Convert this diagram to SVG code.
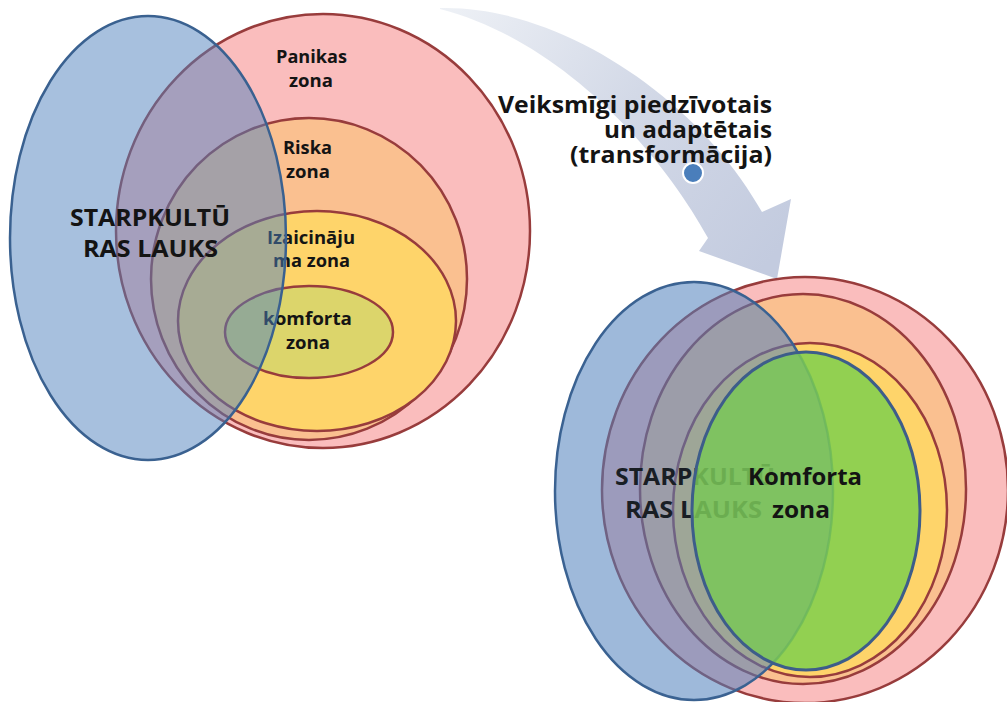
<svg xmlns="http://www.w3.org/2000/svg" width="1007" height="702" viewBox="0 0 1007 702">
  <style>
    .zone { stroke: #983c3c; stroke-width: 2.5; }
    .pink { fill: #fabdbd; }
    .orange { fill: #fac090; }
    .yellow { fill: #fed46a; }
    .comfort { fill: #dcd56b; }
    .cult { fill: #4f81bd; fill-opacity: 0.5; }
    .cultline { fill: none; stroke: #3a6190; stroke-width: 2.5; }
    text { font-family: "Open Sans", Lato, "Liberation Sans", sans-serif; font-weight: 700; fill: #141414; }
    .small { font-size: 17px; text-anchor: middle; }
    .big { font-size: 23px; text-anchor: middle; }
    .label { font-size: 23px; text-anchor: end; }
  </style>
  <defs>
    <linearGradient id="arrowGrad" gradientUnits="userSpaceOnUse" x1="440" y1="8" x2="770" y2="260">
      <stop offset="0" stop-color="#eef1f6"/>
      <stop offset="0.5" stop-color="#d3d9e7"/>
      <stop offset="1" stop-color="#c3cbdf"/>
    </linearGradient>
  </defs>
  <rect width="1007" height="702" fill="#ffffff"/>

  <g id="connectors">
    <path id="transform-arrow" d="M440,8 C560,5 700,100 762,212 L791,199 L777,279 L699,251 L708,238 C660,150 560,40 440,9 Z" fill="url(#arrowGrad)"/>
  </g>

  <g id="label-transform">
    <text class="label" x="772" y="113" textLength="274" lengthAdjust="spacingAndGlyphs">Veiksmīgi piedzīvotais</text>
    <text class="label" x="772" y="138" textLength="168" lengthAdjust="spacingAndGlyphs">un adaptētais</text>
    <text class="label" x="772" y="163" textLength="202" lengthAdjust="spacingAndGlyphs">(transformācija)</text>
    <circle cx="693" cy="173" r="10" fill="#4a7ebb" stroke="#ffffff" stroke-width="2"/>
  </g>

  <!-- Left diagram -->
  <g id="left-panic">
    <ellipse class="zone pink" cx="323" cy="231" rx="207" ry="217"/>
    <text class="small" x="311.5" y="63" textLength="71" lengthAdjust="spacingAndGlyphs">Panikas</text>
    <text class="small" x="311" y="87" textLength="44" lengthAdjust="spacingAndGlyphs">zona</text>
  </g>
  <g id="left-risk">
    <ellipse class="zone orange" cx="309" cy="279" rx="158" ry="161"/>
    <text class="small" x="307.5" y="154" textLength="49" lengthAdjust="spacingAndGlyphs">Riska</text>
    <text class="small" x="308" y="178" textLength="44" lengthAdjust="spacingAndGlyphs">zona</text>
  </g>
  <g id="left-challenge">
    <ellipse class="zone yellow" cx="317" cy="321" rx="139" ry="110"/>
    <text class="small" x="311" y="244" textLength="88" lengthAdjust="spacingAndGlyphs">Izaicināju</text>
    <text class="small" x="311.5" y="267" textLength="77" lengthAdjust="spacingAndGlyphs">ma zona</text>
  </g>
  <g id="left-comfort">
    <ellipse class="zone comfort" cx="309" cy="332" rx="84" ry="46"/>
    <text class="small" x="307.5" y="325" textLength="89" lengthAdjust="spacingAndGlyphs">komforta</text>
    <text class="small" x="308" y="349" textLength="44" lengthAdjust="spacingAndGlyphs">zona</text>
  </g>
  <g id="left-intercultural">
    <ellipse class="cult" cx="148" cy="238" rx="138" ry="222"/>
    <ellipse class="cultline" cx="148" cy="238" rx="138" ry="222"/>
    <text class="big" x="150" y="226" textLength="160" lengthAdjust="spacingAndGlyphs">STARPKULTŪ</text>
    <text class="big" x="150.5" y="257" textLength="135" lengthAdjust="spacingAndGlyphs">RAS LAUKS</text>
  </g>

  <!-- Right diagram -->
  <g id="right-panic">
    <ellipse class="zone pink" cx="805" cy="490" rx="203" ry="213"/>
  </g>
  <g id="right-risk">
    <ellipse class="zone orange" cx="803" cy="489" rx="163" ry="195"/>
  </g>
  <g id="right-challenge">
    <ellipse class="zone yellow" cx="810" cy="510" rx="137" ry="167"/>
  </g>
  <g id="right-intercultural">
    <ellipse class="cult" cx="694" cy="491" rx="139" ry="209"/>
    <ellipse class="cultline" cx="694" cy="491" rx="139" ry="209"/>
    <text class="big" x="695" y="485" textLength="160" lengthAdjust="spacingAndGlyphs">STARPKULTŪ</text>
    <text class="big" x="693.5" y="518" textLength="137" lengthAdjust="spacingAndGlyphs">RAS LAUKS</text>
  </g>
  <g id="right-comfort">
    <ellipse cx="806" cy="511" rx="114" ry="159" fill="#7fcf4c" fill-opacity="0.85"/>
    <ellipse cx="694" cy="491" rx="139" ry="209" fill="#4f81bd" fill-opacity="0.1"/>
    <ellipse cx="806" cy="511" rx="114" ry="159" fill="none" stroke="#3d5d8a" stroke-width="3"/>
    <text class="big" x="805" y="485" textLength="114" lengthAdjust="spacingAndGlyphs">Komforta</text>
    <text class="big" x="801" y="518" textLength="58" lengthAdjust="spacingAndGlyphs">zona</text>
  </g>
</svg>
